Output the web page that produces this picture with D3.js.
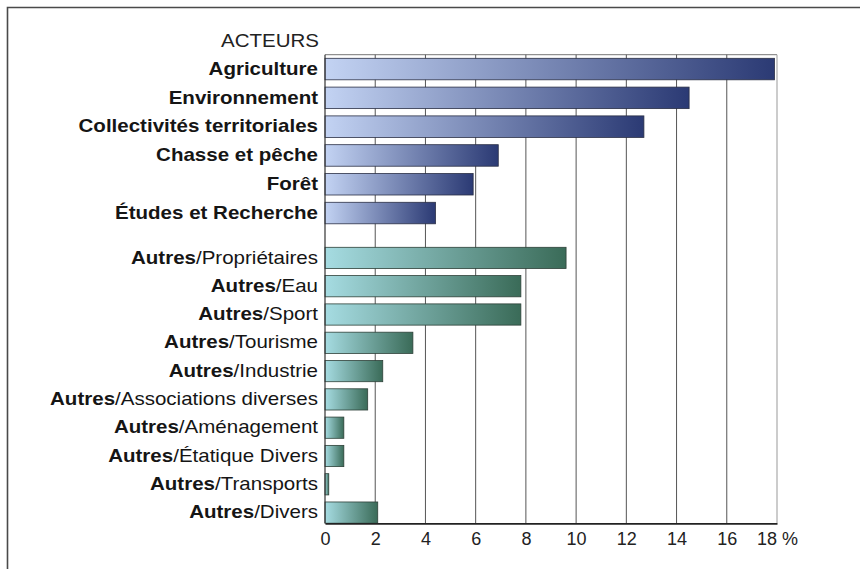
<!DOCTYPE html>
<html><head><meta charset="utf-8">
<script src="https://cdn.jsdelivr.net/npm/d3@7"></script>
<style>body{margin:0;background:#fff}svg{display:block}</style>
</head><body>
<svg id="c" width="860" height="569"></svg>
<script>
const topCategories = ["Agriculture","Environnement","Collectivités territoriales","Chasse et pêche","Forêt","Études et Recherche"];
const topValues = [17.9, 14.5, 12.7, 6.9, 5.9, 4.4];
const otherCategories = ["Propriétaires","Eau","Sport","Tourisme","Industrie","Associations diverses","Aménagement","Étatique Divers","Transports","Divers"];
const otherValues = [9.6, 7.8, 7.8, 3.5, 2.3, 1.7, 0.75, 0.75, 0.15, 2.1];
const otherPrefix = "Autres";
const xTicks = [0,2,4,6,8,10,12,14,16,18];
const axisTitle = "ACTEURS";
const unit = "%";

const svg = d3.select("#c");
const FONT = "'Liberation Sans', Arial, sans-serif";
const plotL = 325, plotR = 777, plotT = 54.7, plotB = 523.3;
const LABEL_SIZE = 18, STRETCH = 1.14;

const x = d3.scaleLinear().domain([0,18]).range([plotL, plotR]);
const yTop = d3.scaleBand().domain(topCategories).range([58.3, 223.8]).paddingInner(0.253).paddingOuter(0);
const yOther = d3.scaleBand().domain(otherCategories).range([247.3, 523.2]).paddingInner(0.25).paddingOuter(0);

// frame
svg.append("path").attr("d","M7.5,569 L7.5,7.5 L860,7.5").attr("fill","none").attr("stroke","#4a4a4a").attr("stroke-width",1.6);

// gradients
const defs = svg.append("defs");
function grad(id, c1, c2){
  const g = defs.append("linearGradient").attr("id", id).attr("x1","0").attr("x2","1").attr("y1","0").attr("y2","0");
  g.append("stop").attr("offset","0%").attr("stop-color", c1);
  g.append("stop").attr("offset","100%").attr("stop-color", c2);
}
grad("gBlue", "#c3d3f3", "#2b3a74");
grad("gGreen", "#a6dce2", "#3a6b58");

// plot frame lines
svg.append("line").attr("x1",plotL).attr("x2",plotR).attr("y1",plotT).attr("y2",plotT).attr("stroke","#777").attr("stroke-width",1);
svg.append("line").attr("x1",plotR).attr("x2",plotR).attr("y1",plotT).attr("y2",plotB).attr("stroke","#aaa").attr("stroke-width",1.2);

// gridlines
svg.append("g").selectAll("line").data(xTicks.filter(d=>d>0 && d<18)).join("line")
  .attr("x1", d=>x(d)).attr("x2", d=>x(d)).attr("y1", plotT).attr("y2", plotB)
  .attr("stroke","#555").attr("stroke-width",1);

// bars
svg.append("g").selectAll("rect").data(topCategories).join("rect")
  .attr("x", x(0)).attr("y", d=>yTop(d))
  .attr("width", (d,i)=>x(topValues[i])-x(0)).attr("height", yTop.bandwidth())
  .attr("fill","url(#gBlue)").attr("stroke","#2a2f45").attr("stroke-width",0.8);
svg.append("g").selectAll("rect").data(otherCategories).join("rect")
  .attr("x", x(0)).attr("y", d=>yOther(d))
  .attr("width", (d,i)=>x(otherValues[i])-x(0)).attr("height", yOther.bandwidth())
  .attr("fill","url(#gGreen)").attr("stroke","#2d4038").attr("stroke-width",0.8);

// left axis line and bottom axis line
svg.append("line").attr("x1",plotL).attr("x2",plotL).attr("y1",plotT).attr("y2",plotB).attr("stroke","#333").attr("stroke-width",1.2);
const xAxis = d3.axisBottom(x).tickValues(xTicks).tickSize(0).tickPadding(9)
  .tickFormat(d => d===18 ? d + " " + unit : d);
const ax = svg.append("g").attr("transform",`translate(0,${plotB})`).call(xAxis);
ax.select(".domain").attr("stroke","#222").attr("stroke-width",1.8);
ax.selectAll("text").attr("font-family",FONT).attr("font-size",18).attr("fill","#222");

// labels
const labelX = 318;
svg.append("text").attr("transform", `translate(${labelX+1},42) scale(${STRETCH},1)`)
  .attr("text-anchor","end").attr("dominant-baseline","middle")
  .attr("font-family",FONT).attr("font-size",LABEL_SIZE).attr("fill","#222").text(axisTitle);

svg.append("g").selectAll("text").data(topCategories).join("text")
  .attr("transform", d=>`translate(${labelX},${yTop(d)+yTop.bandwidth()/2+1}) scale(${STRETCH},1)`)
  .attr("text-anchor","end").attr("dominant-baseline","middle")
  .attr("font-family",FONT).attr("font-size",LABEL_SIZE).attr("font-weight","bold").attr("fill","#151515").text(d=>d);

const ot = svg.append("g").selectAll("text").data(otherCategories).join("text")
  .attr("transform", d=>`translate(${labelX},${yOther(d)+yOther.bandwidth()/2+1}) scale(${STRETCH},1)`)
  .attr("text-anchor","end").attr("dominant-baseline","middle")
  .attr("font-family",FONT).attr("font-size",LABEL_SIZE).attr("fill","#151515");
ot.append("tspan").attr("font-weight","bold").text(otherPrefix);
ot.append("tspan").text(d=>"/"+d);
</script>
</body></html>
